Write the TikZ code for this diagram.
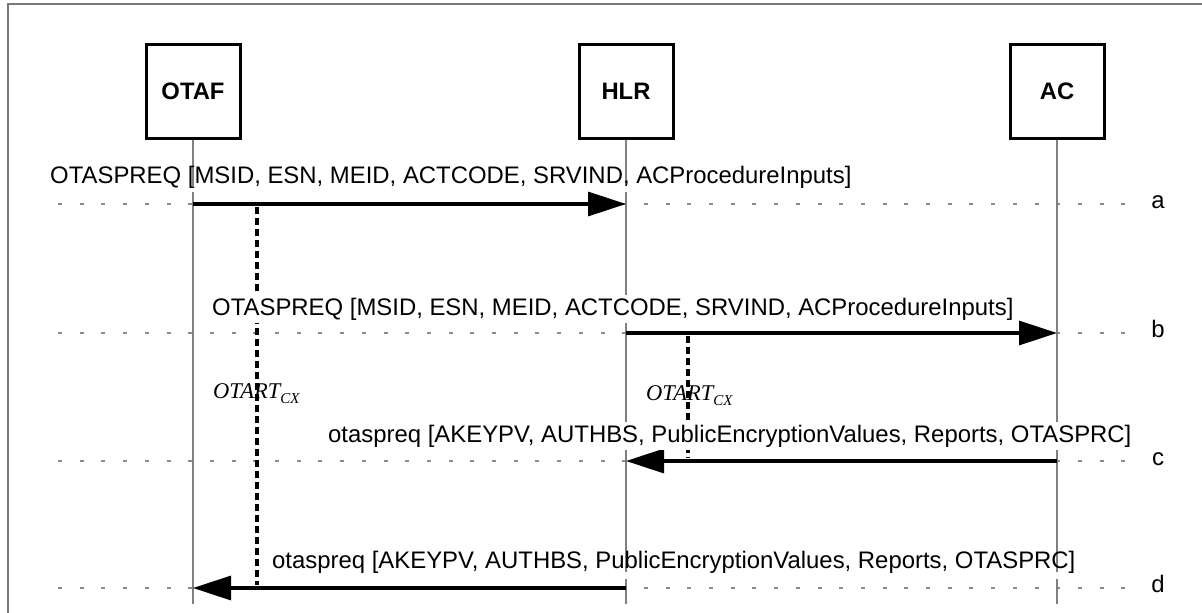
\documentclass[tikz,border=0pt]{standalone}
\usepackage{fontspec}
\setmainfont{Liberation Sans}
\newfontfamily\timerfont{Liberation Serif}
\usetikzlibrary{arrows.meta}
\definecolor{lifegray}{HTML}{808080}
\definecolor{guidegray}{HTML}{8C8C8C}
\definecolor{framegray}{HTML}{7A7A7A}
\tikzset{
  actor/.style={draw, line width=3pt, minimum size=94pt, inner sep=0pt,
    font=\fontsize{23.8}{26}\selectfont\bfseries},
  life/.style={lifegray, line width=1.8pt},
  guide/.style={guidegray, line width=1.4pt, dash pattern=on 4pt off 17.7pt},
  msg/.style={line width=3.2pt, -{Triangle[length=38pt,width=24pt]}},
  timer/.style={line width=3.4pt, dash pattern=on 7pt off 4pt},
  msglbl/.style={font=\fontsize{23.9}{26}\selectfont, inner sep=0pt, anchor=base west},
  maskedlbl/.style={msglbl, fill=white, inner ysep=3pt},
  rowtag/.style={font=\fontsize{23.9}{26}\selectfont, inner sep=0pt, anchor=base},
  timerlbl/.style={font=\timerfont\itshape\fontsize{22.5}{24}\selectfont, inner sep=0pt, anchor=base west},
  gap/.style={fill=white, draw=none}
}
\begin{document}
\begin{tikzpicture}[x=1pt, y=-1pt]
\useasboundingbox (0,0) rectangle (1202,613);

% outer frame (left and top edges)
\draw[framegray, line width=2pt] (8,640) -- (8,4) -- (1230,4);

% actors
\node[actor] (otaf) at (193,91.5) {OTAF};
\node[actor] (hlr)  at (626,91.5) {HLR};
\node[actor] (ac)   at (1057,91.5) {AC};

% lifeline ends
\coordinate (otafend) at (193,604);
\coordinate (hlrend)  at (626,604);
\coordinate (acend)   at (1057,604);

% message points on the lifelines
\coordinate (oa) at (193,204);  \coordinate (ha) at (626,204);
\coordinate (hb) at (626,333);  \coordinate (ab) at (1057,333);
\coordinate (ac1) at (1057,461); \coordinate (hc) at (626,461);
\coordinate (hd) at (626,588);  \coordinate (od) at (193,588);

% dotted row guides
\foreach \r/\y in {a/204, b/333, c/461, d/588} {
  \coordinate (gl\r) at (58,\y);
  \coordinate (gr\r) at (1135,\y);
  \draw[guide] (gl\r) -- (gr\r);
}

% lifelines
\draw[life] (otaf.south) -- (otafend);
\draw[life] (hlr.south) -- (hlrend);
\draw[life] (ac.south) -- (acend);

% breaks in the lifelines just under the unboxed labels
\fill[gap] (190,186) rectangle (196,192);
\fill[gap] (623,186) rectangle (629,192);
\fill[gap] (623,572) rectangle (629,579);
\fill[gap] (1054,572) rectangle (1060,579);

% timers
\coordinate (t1s) at (257,207); \coordinate (t1e) at (257,585);
\coordinate (t2s) at (688,336); \coordinate (t2e) at (688,458);
\draw[timer] (t1s) -- (t1e);
\draw[timer] (t2s) -- (t2e);

% messages
\draw[msg] (oa) -- (ha);
\draw[msg] (hb) -- (ab);
\draw[msg] (ac1) -- (hc);
\draw[msg] (hd) -- (od);

% message labels
\node[msglbl] (la) at (50,183) {OTASPREQ [MSID, ESN, MEID, ACTCODE, SRVIND, ACProcedureInputs]};
\node[maskedlbl] (lb) at (212,315) {OTASPREQ [MSID, ESN, MEID, ACTCODE, SRVIND, ACProcedureInputs]};
\node[maskedlbl] (lc) at (328,442) {otaspreq [AKEYPV, AUTHBS, PublicEncryptionValues, Reports, OTASPRC]};
\node[msglbl] (ld) at (272,568) {otaspreq [AKEYPV, AUTHBS, PublicEncryptionValues, Reports, OTASPRC]};

% row tags
\node[rowtag] (ta) at (1158,208.5) {a};
\node[rowtag] (tb) at (1158,337.5) {b};
\node[rowtag] (tc) at (1158,465.5) {c};
\node[rowtag] (td) at (1158,592.5) {d};

% timer labels
\node[timerlbl] (k1) at (213,398) {OTART\raisebox{-5pt}{\fontsize{15}{15}\selectfont CX}};
\node[timerlbl] (k2) at (646,400) {OTART\raisebox{-5pt}{\fontsize{15}{15}\selectfont CX}};
\end{tikzpicture}
\end{document}
